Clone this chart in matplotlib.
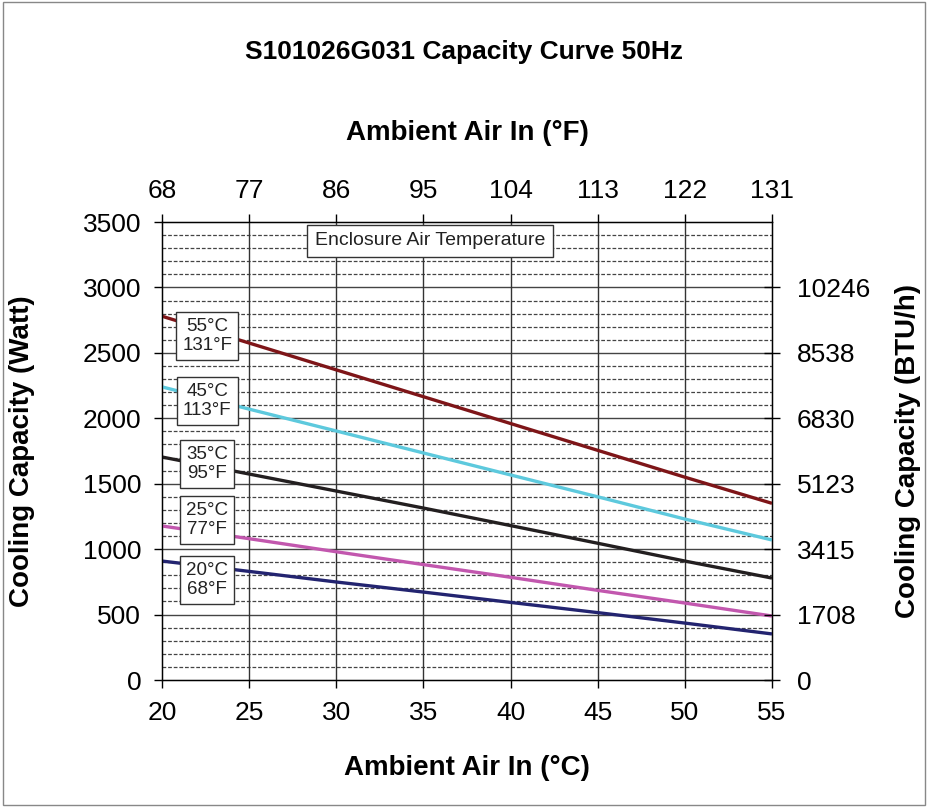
import matplotlib.pyplot as plt
from matplotlib.patches import Rectangle
import numpy as np

plt.rcParams['font.family'] = ['Liberation Sans', 'DejaVu Sans']

# ambient air in (°C)
ambient_c = [20, 25, 30, 35, 40, 45, 50, 55]
ambient_f = ["68", "77", "86", "95", "104", "113", "122", "131"]

# cooling capacity (W) per enclosure air temperature
cap_55 = [2780, 2575, 2370, 2165, 1960, 1755, 1550, 1350]
cap_45 = [2240, 2070, 1903, 1735, 1567, 1400, 1230, 1070]
cap_35 = [1704, 1574, 1444, 1314, 1180, 1045, 909, 779]
cap_25 = [1177, 1080, 980, 882, 785, 685, 588, 489]
cap_20 = [909, 830, 749, 672, 593, 515, 435, 352]

series = [
    (cap_55, "#7E1518", "55°C\n131°F", 2630),
    (cap_45, "#5DC9DD", "45°C\n113°F", 2130),
    (cap_35, "#231F20", "35°C\n95°F", 1650),
    (cap_25, "#C257AE", "25°C\n77°F", 1222),
    (cap_20, "#232470", "20°C\n68°F", 764),
]

btu_ticks = [0, 500, 1000, 1500, 2000, 2500, 3000]
btu_labels = ["0", "1708", "3415", "5123", "6830", "8538", "10246"]

fig = plt.figure(figsize=(9.28, 8.07), dpi=100)
ax = fig.add_axes([162/928, 1-680/807, (772-162)/928, (680-222)/807])

# grid
for y in range(100, 3500, 100):
    if y % 500:
        ax.axhline(y, color="#444444", lw=0.9, ls=(0, (3, 1.5)), zorder=1)
    else:
        ax.axhline(y, color="#444444", lw=1.0, zorder=1)
for x in ambient_c[1:-1]:
    ax.axvline(x, color="#333333", lw=1.0, zorder=1)

for vals, col, lab, ylab in series:
    ax.plot(ambient_c, vals, color=col, lw=2.4, zorder=3, solid_capstyle="butt")
    ax.text(22.6, ylab, lab, ha="center", va="center", fontsize=13.5, color="#222222",
            zorder=5, linespacing=1.15,
            bbox=dict(boxstyle="square,pad=0.32", fc="white", ec="#333333", lw=1.0))

ax.text(35.4, 3355, "Enclosure Air Temperature", ha="center", va="center", fontsize=14,
        color="#222222", zorder=5,
        bbox=dict(boxstyle="square,pad=0.4", fc="white", ec="#333333", lw=1.0))

ax.set_xlim(20, 55)
ax.set_ylim(0, 3500)
ax.set_xticks(ambient_c)
ax.set_yticks(range(0, 3501, 500))
ax.tick_params(axis="y", direction="out", length=6, width=1, labelsize=19, pad=9)
ax.tick_params(axis="x", direction="out", length=6, width=1, labelsize=19, pad=9)
for s in ax.spines.values():
    s.set_color("#333333")
    s.set_linewidth(1.0)

ax.set_xlabel("Ambient Air In (°C)", fontsize=20, fontweight="bold", labelpad=22)
ax.set_ylabel("Cooling Capacity (Watt)", fontsize=20, fontweight="bold", labelpad=34)

axr = ax.twinx()
axr.set_ylim(0, 3500)
axr.set_yticks(btu_ticks)
axr.set_yticklabels(btu_labels)
axr.tick_params(axis="y", direction="inout", length=12, width=1, labelsize=19, pad=12)
axr.set_ylabel("Cooling Capacity (BTU/h)", fontsize=20, fontweight="bold", labelpad=18)

axt = ax.twiny()
axt.set_xlim(20, 55)
axt.set_xticks(ambient_c)
axt.set_xticklabels(ambient_f)
axt.tick_params(axis="x", direction="out", length=6, width=1, labelsize=19, pad=8)
axt.set_xlabel("Ambient Air In (°F)", fontsize=20, fontweight="bold", labelpad=28)

fig.text(0.5, 1-52/807, "S101026G031 Capacity Curve 50Hz", ha="center", va="center",
         fontsize=19, fontweight="bold")

fig.patches.append(Rectangle((0.003, 0.003), 0.994, 0.994, transform=fig.transFigure,
                             fill=False, ec="#888888", lw=1.0))

fig.savefig("out.png", dpi=100)
